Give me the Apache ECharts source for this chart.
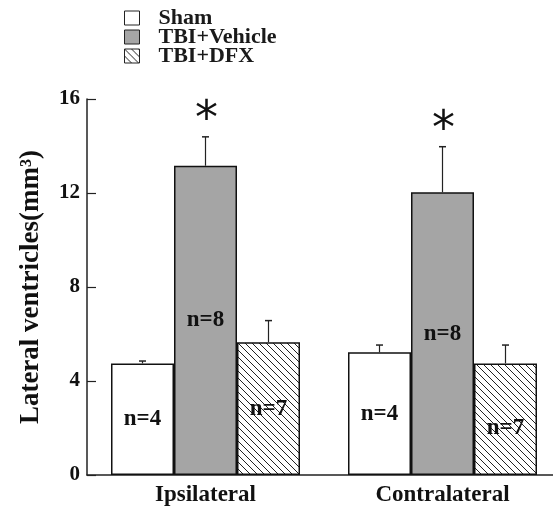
<!DOCTYPE html>
<html><head><meta charset="utf-8">
<script src="https://cdn.jsdelivr.net/npm/echarts@6/dist/echarts.min.js"></script>
<style>html,body{margin:0;padding:0;background:#fff}#c{width:553px;height:510px}</style>
</head><body><div id="c"></div>
<script>
const categories = ['Ipsilateral', 'Contralateral'];
const seriesNames = ['Sham', 'TBI+Vehicle', 'TBI+DFX'];
const shamMean = [4.75, 5.22];
const shamErr = [0.10, 0.31];
const vehicleMean = [13.16, 12.03];
const vehicleErr = [1.23, 1.94];
const dfxMean = [5.65, 4.75];
const dfxErr = [0.92, 0.78];
const shamN = [4, 4];
const vehicleN = [8, 8];
const dfxN = [7, 7];
const vehicleSignificant = [true, true];
const yMin = 0, yMax = 16, yInterval = 4;

const FONT = '"Liberation Serif", "Times New Roman", serif';
const BAR_W = 63;

// hatch pattern
const pc = document.createElement('canvas');
const S = 7;
pc.width = S; pc.height = S;
const pctx = pc.getContext('2d');
pctx.fillStyle = '#fff'; pctx.fillRect(0, 0, S, S);
pctx.strokeStyle = '#222'; pctx.lineWidth = 1;
for (let k = -1; k <= 1; k++) {
  pctx.beginPath(); pctx.moveTo(k * S, 0); pctx.lineTo(k * S + S, S); pctx.stroke();
}
const hatch = { image: pc, repeat: 'repeat' };

const means = [shamMean, vehicleMean, dfxMean];
const errs = [shamErr, vehicleErr, dfxErr];
const ns = [shamN, vehicleN, dfxN];
const stars = [[false, false], vehicleSignificant, [false, false]];
const fills = ['#ffffff', '#a5a5a5', hatch];

const errData = [];
for (let s = 0; s < 3; s++) {
  for (let c = 0; c < categories.length; c++) {
    errData.push([c, means[s][c], errs[s][c], s - 1, stars[s][c] ? 1 : 0]);
  }
}

const labelStyle = { show: true, position: 'inside', fontFamily: FONT, fontWeight: 'bold', fontSize: 23, color: '#111' };

const barSeries = seriesNames.map((name, s) => ({
  name, type: 'bar', barWidth: BAR_W, barGap: '0%',
  itemStyle: { color: fills[s], borderColor: '#111', borderWidth: 1.5 },
  label: Object.assign({}, labelStyle, { formatter: p => 'n=' + ns[s][p.dataIndex] }),
  data: means[s].map((v, c) => (s === 2 && c === 1) ? { value: v, label: { offset: [0, 9] } } : v),
  z: 2
}));

const chart = echarts.init(document.getElementById('c'), null, { renderer: 'canvas' });
chart.setOption({
  animation: false,
  backgroundColor: '#fff',
  grid: { left: 87, top: 99, height: 376, width: 474, outerBoundsMode: 'none', containLabel: false },
  legend: {
    orient: 'vertical', left: 124, top: 7, padding: 0,
    itemWidth: 15, itemHeight: 14, itemGap: -3, icon: 'rect',
    data: seriesNames,
    itemStyle: { borderColor: '#222', borderWidth: 1 },
    textStyle: { fontFamily: FONT, fontWeight: 'bold', fontSize: 22, color: '#1a1a1a', padding: [0, 0, 0, 14] }
  },
  xAxis: {
    type: 'category', data: categories,
    axisLine: { lineStyle: { color: '#222', width: 1.5 } },
    axisTick: { show: false },
    axisLabel: { fontFamily: FONT, fontWeight: 'bold', fontSize: 23, color: '#111', margin: 9 }
  },
  yAxis: {
    type: 'value', min: yMin, max: yMax, interval: yInterval,
    name: 'Lateral ventricles(mm³)', nameLocation: 'middle', nameRotate: 90, nameGap: 42,
    nameTextStyle: { fontFamily: FONT, fontWeight: 'bold', fontSize: 27, color: '#111' },
    axisLine: { show: true, lineStyle: { color: '#222', width: 1.5 } },
    axisTick: { show: true, inside: true, length: 9, lineStyle: { color: '#222', width: 1.2 } },
    axisLabel: { fontFamily: FONT, fontWeight: 'bold', fontSize: 21, color: '#111', margin: 7 },
    splitLine: { show: false }
  },
  series: barSeries.concat([{
    name: 'err', type: 'custom', z: 3,
    renderItem: function (params, api) {
      const c = api.value(0), m = api.value(1), e = api.value(2), off = api.value(3), st = api.value(4);
      const x = api.coord([c, 0])[0] + off * BAR_W;
      const yTop = api.coord([c, m])[1];
      const yCap = api.coord([c, m + e])[1];
      const children = [
        { type: 'line', shape: { x1: x, y1: yTop, x2: x, y2: yCap }, style: { stroke: '#222', lineWidth: 1.2 } },
        { type: 'line', shape: { x1: x - 3.5, y1: yCap, x2: x + 3.5, y2: yCap }, style: { stroke: '#222', lineWidth: 1.5 } }
      ];
      if (st) {
        children.push({ type: 'text', style: { text: '*', x: x + 1, y: yCap - 16, align: 'center', verticalAlign: 'middle', fontFamily: '"DejaVu Sans", sans-serif', fontSize: 46, fill: '#111' } });
      }
      return { type: 'group', children };
    },
    data: errData
  }])
});
</script></body></html>
